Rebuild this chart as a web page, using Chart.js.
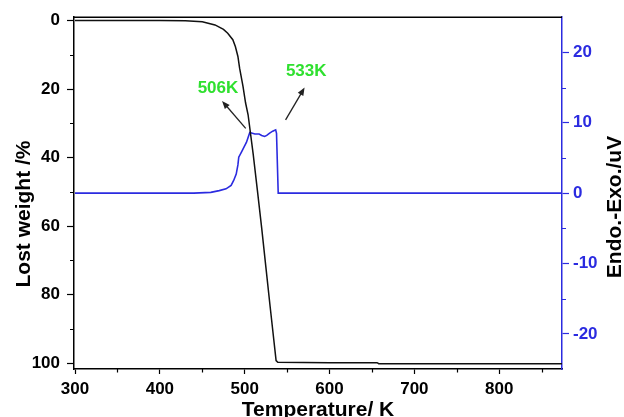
<!DOCTYPE html>
<html>
<head>
<meta charset="utf-8">
<script src="https://cdn.jsdelivr.net/npm/chart.js@4.4.1/dist/chart.umd.min.js"></script>
<style>
  html, body { margin: 0; padding: 0; background: #fff; }
  #tgaChart { display: block; }
</style>
</head>
<body>
<canvas id="tgaChart" width="624" height="417"></canvas>
<script>
// TGA curve: lost weight (%) vs temperature (K)
const tgaTemp = [300, 400, 430, 450, 465, 475, 480, 486, 489, 492, 494, 498, 501, 504, 510, 515, 520, 525, 530, 537, 539, 600, 656, 658, 874];
const tgaLoss = [0, 0, 0.1, 0.4, 1.3, 2.6, 3.7, 5.6, 7.6, 10.5, 13.9, 19.2, 24, 27.5, 39, 49.6, 60.5, 72, 83.5, 99.2, 99.7, 99.8, 99.8, 100.1, 100.1];

// DSC curve: Endo.-Exo. signal (uV) vs temperature (K)
const dscTemp = [300, 440, 460, 470, 478, 484, 487, 490, 492, 493, 496, 499, 502, 504, 506, 509, 512, 517, 520, 523.5, 526, 529, 533, 536.5, 537.5, 539.5, 874];
const dscSignal = [0, 0, 0.1, 0.35, 0.6, 1.1, 1.8, 2.7, 4.0, 5.1, 5.8, 6.5, 7.2, 7.9, 8.6, 8.5, 8.4, 8.4, 8.2, 8.05, 8.2, 8.5, 8.8, 9.0, 8.5, 0, 0];

// tick values (major, labelled) and minor ticks
const tempTicks = [300, 400, 500, 600, 700, 800];
const lossTicks = [0, 20, 40, 60, 80, 100];
const dscTicks = [-20, -10, 0, 10, 20];
const tempMinorTicks = [350, 450, 550, 650, 750, 850];
const lossMinorTicks = [10, 30, 50, 70, 90];
const dscMinorTicks = [-15, -5, 5, 15];

// peak annotations (temperature K, signal uV)
const peakLabels = ['506K', '533K'];
const peakLabelTemp = [468.5, 572.5];
const peakLabelSignal = [15.1, 17.4];
const arrowTailTemp = [501.2, 548.2];
const arrowTailSignal = [9.2, 10.4];
const arrowTipTemp = [473.3, 570.6];
const arrowTipSignal = [13.1, 15.0];

const FONT = "'Liberation Sans', Arial, sans-serif";
const BLUE = '#2b2be0';
const GREEN = '#2fe02f';

function toPoints(xs, ys) {
    return xs.map((x, i) => ({ x: x, y: ys[i] }));
}

function fixedTicks(values) {
    return scale => { scale.ticks = values.map(v => ({ value: v })); };
}

/**
 * Draw the pieces Chart.js does not do on its own: top frame, minor ticks,
 * peak arrows/labels and the axis titles.
 */
const overlayPlugin = {
    id: 'overlay',
    afterDraw(chart) {
        const ctx = chart.ctx;
        const area = chart.chartArea;
        const xs = chart.scales.x;
        const yl = chart.scales.yLoss;
        const yr = chart.scales.yDsc;

        ctx.save();

        // top frame line
        ctx.strokeStyle = '#000';
        ctx.lineWidth = 1.5;
        ctx.beginPath();
        ctx.moveTo(area.left, area.top);
        ctx.lineTo(area.right, area.top);
        ctx.stroke();

        // minor ticks
        ctx.lineWidth = 1.2;
        ctx.beginPath();
        tempMinorTicks.forEach(v => {
            const px = Math.round(xs.getPixelForValue(v)) + 0.5;
            ctx.moveTo(px, area.bottom);
            ctx.lineTo(px, area.bottom + 3.5);
        });
        lossMinorTicks.forEach(v => {
            const py = Math.round(yl.getPixelForValue(v)) + 0.5;
            ctx.moveTo(area.left, py);
            ctx.lineTo(area.left - 4, py);
        });
        ctx.stroke();
        ctx.strokeStyle = BLUE;
        ctx.beginPath();
        dscMinorTicks.forEach(v => {
            const py = Math.round(yr.getPixelForValue(v)) + 0.5;
            ctx.moveTo(area.right, py);
            ctx.lineTo(area.right + 4, py);
        });
        ctx.stroke();

        // arrows
        ctx.strokeStyle = '#222';
        ctx.fillStyle = '#222';
        ctx.lineWidth = 1.3;
        for (let i = 0; i < peakLabels.length; i++) {
            const x1 = xs.getPixelForValue(arrowTailTemp[i]);
            const y1 = yr.getPixelForValue(arrowTailSignal[i]);
            const x2 = xs.getPixelForValue(arrowTipTemp[i]);
            const y2 = yr.getPixelForValue(arrowTipSignal[i]);
            const ang = Math.atan2(y2 - y1, x2 - x1);
            const headLen = 8, headW = 3.2;
            ctx.beginPath();
            ctx.moveTo(x1, y1);
            ctx.lineTo(x2 - Math.cos(ang) * headLen * 0.8, y2 - Math.sin(ang) * headLen * 0.8);
            ctx.stroke();
            ctx.beginPath();
            ctx.moveTo(x2, y2);
            ctx.lineTo(x2 - Math.cos(ang) * headLen - Math.sin(ang) * headW, y2 - Math.sin(ang) * headLen + Math.cos(ang) * headW);
            ctx.lineTo(x2 - Math.cos(ang) * headLen + Math.sin(ang) * headW, y2 - Math.sin(ang) * headLen - Math.cos(ang) * headW);
            ctx.closePath();
            ctx.fill();
        }

        // peak labels
        ctx.fillStyle = GREEN;
        ctx.font = 'bold 17px ' + FONT;
        ctx.textAlign = 'center';
        ctx.textBaseline = 'middle';
        for (let i = 0; i < peakLabels.length; i++) {
            ctx.fillText(peakLabels[i],
                xs.getPixelForValue(peakLabelTemp[i]),
                yr.getPixelForValue(peakLabelSignal[i]) + 1);
        }

        // axis titles
        ctx.font = 'bold 21px ' + FONT;
        ctx.textBaseline = 'alphabetic';
        ctx.fillStyle = '#000';
        ctx.fillText('Temperature/ K', (area.left + area.right) / 2, 416);

        ctx.save();
        ctx.translate(30, 214);
        ctx.rotate(-Math.PI / 2);
        ctx.fillText('Lost weight /%', 0, 0);
        ctx.restore();

        ctx.save();
        ctx.translate(620.5, 207);
        ctx.rotate(-Math.PI / 2);
        ctx.fillText('Endo.-Exo./uV', 0, 0);
        ctx.restore();

        ctx.restore();
    }
};

function renderTgaDscChart() {
    const ctx = document.getElementById('tgaChart').getContext('2d');
    new Chart(ctx, {
        type: 'line',
        data: {
            datasets: [{
                label: 'TGA',
                data: toPoints(tgaTemp, tgaLoss),
                yAxisID: 'yLoss',
                borderColor: '#111',
                borderWidth: 1.5,
                pointRadius: 0,
                tension: 0
            }, {
                label: 'DSC',
                data: toPoints(dscTemp, dscSignal),
                yAxisID: 'yDsc',
                borderColor: BLUE,
                borderWidth: 1.6,
                pointRadius: 0,
                tension: 0
            }]
        },
        options: {
            responsive: false,
            animation: false,
            layout: { padding: { top: 16, left: 0, right: 0, bottom: 0 } },
            plugins: {
                legend: { display: false },
                tooltip: { enabled: false }
            },
            scales: {
                x: {
                    type: 'linear',
                    position: 'bottom',
                    min: 298.8,
                    max: 874,
                    afterBuildTicks: fixedTicks(tempTicks),
                    afterFit: s => { s.height = 48; },
                    border: { display: true, color: '#000', width: 1.5 },
                    grid: { drawOnChartArea: false, drawTicks: true, tickLength: 5, tickColor: '#000', tickWidth: 1.2 },
                    ticks: {
                        padding: 5,
                        color: '#000',
                        maxRotation: 0,
                        autoSkip: false,
                        font: { family: FONT, size: 17, weight: 'bold' }
                    }
                },
                yLoss: {
                    type: 'linear',
                    position: 'left',
                    reverse: true,
                    min: -0.96,
                    max: 101.65,
                    afterBuildTicks: fixedTicks(lossTicks),
                    afterFit: s => { s.width = 74; },
                    border: { display: true, color: '#000', width: 1.5 },
                    grid: { drawOnChartArea: false, drawTicks: true, tickLength: 7, tickColor: '#000', tickWidth: 1.2 },
                    ticks: {
                        padding: 7,
                        color: '#000',
                        font: { family: FONT, size: 17, weight: 'bold' }
                    }
                },
                yDsc: {
                    type: 'linear',
                    position: 'right',
                    min: -25,
                    max: 25,
                    afterBuildTicks: fixedTicks(dscTicks),
                    afterFit: s => { s.width = 62; },
                    border: { display: true, color: BLUE, width: 1.5 },
                    grid: { drawOnChartArea: false, drawTicks: true, tickLength: 7, tickColor: BLUE, tickWidth: 1.2 },
                    ticks: {
                        padding: 4,
                        color: BLUE,
                        font: { family: FONT, size: 17, weight: 'bold' }
                    }
                }
            }
        },
        plugins: [overlayPlugin]
    });
}

document.addEventListener('DOMContentLoaded', renderTgaDscChart);
</script>
</body>
</html>
